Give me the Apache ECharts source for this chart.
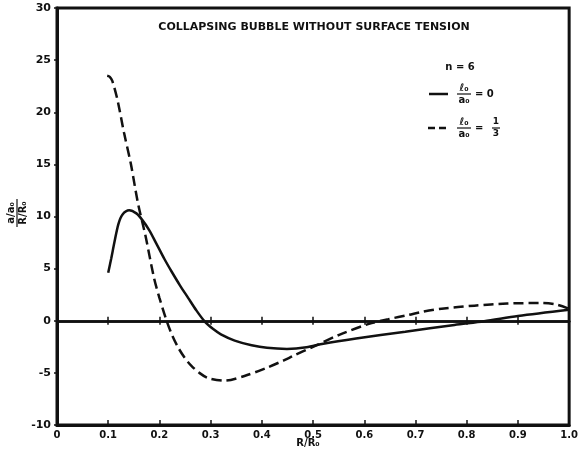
<!DOCTYPE html>
<html>
<head>
<meta charset="utf-8">
<script src="https://cdn.jsdelivr.net/npm/echarts@6/dist/echarts.min.js"></script>
<style>
html,body{margin:0;padding:0;background:#fff;}
#c{width:581px;height:462px;}
</style>
</head>
<body>
<div id="c"></div>
<script>
// ---- data ----
var titleText = 'COLLAPSING BUBBLE WITHOUT SURFACE TENSION';
var xTickLabels = ['0', '0.1', '0.2', '0.3', '0.4', '0.5', '0.6', '0.7', '0.8', '0.9', '1.0'];
var yTickLabels = ['-10', '-5', '0', '5', '10', '15', '20', '25', '30'];

// l0/a0 = 0 (solid)
var xSolid = [0.100, 0.106, 0.112, 0.120, 0.128, 0.141, 0.155, 0.166, 0.180, 0.193, 0.210, 0.224, 0.240, 0.256, 0.272, 0.289, 0.305, 0.320, 0.347, 0.380, 0.410, 0.449, 0.487, 0.520, 0.584, 0.680, 0.776, 0.834, 0.900, 1.000];
var ySolid = [4.6, 6.0, 7.5, 9.3, 10.2, 10.6, 10.3, 9.7, 8.7, 7.5, 5.9, 4.7, 3.4, 2.2, 1.0, -0.1, -0.8, -1.3, -1.9, -2.35, -2.6, -2.7, -2.55, -2.2, -1.7, -1.05, -0.4, -0.05, 0.45, 1.05];

// l0/a0 = 1/3 (dashed)
var xDashed = [0.098, 0.103, 0.108, 0.118, 0.131, 0.144, 0.158, 0.173, 0.189, 0.200, 0.214, 0.225, 0.237, 0.250, 0.262, 0.278, 0.295, 0.327, 0.366, 0.410, 0.443, 0.462, 0.500, 0.551, 0.609, 0.647, 0.686, 0.713, 0.751, 0.815, 0.879, 0.944, 0.975, 1.000];
var yDashed = [23.5, 23.4, 23.0, 21.2, 18.0, 15.1, 11.3, 8.1, 4.2, 2.2, 0.0, -1.4, -2.6, -3.6, -4.3, -5.0, -5.5, -5.75, -5.3, -4.5, -3.8, -3.35, -2.5, -1.35, -0.3, 0.15, 0.55, 0.85, 1.15, 1.45, 1.65, 1.7, 1.55, 1.15];

function zip(xs, ys) { return xs.map(function (x, i) { return [x, ys[i]]; }); }

var INK = '#111';
var FONT = 'DejaVu Sans';

var chart = echarts.init(document.getElementById('c'), null, {renderer: 'canvas'});

var baseX = {
  type: 'value', min: 0, max: 1, interval: 0.1, gridIndex: 0,
  splitLine: {show: false}
};

var option = {
  backgroundColor: '#fff',
  animation: false,
  title: {
    text: titleText,
    left: 309, top: 17, textAlign: 'center',
    textStyle: {fontFamily: FONT, fontSize: 11, fontWeight: 'bold', color: INK}
  },
  grid: {
    left: 57, right: 6, top: 8, bottom: 37,
    show: true, borderColor: INK, borderWidth: 3, backgroundColor: 'transparent'
  },
  xAxis: [
    Object.assign({}, baseX, {
      position: 'bottom',
      axisLine: {onZero: false, lineStyle: {color: INK, width: 3}},
      axisTick: {show: true, inside: true, length: 5, lineStyle: {color: INK, width: 1.5}},
      axisLabel: {
        margin: 5, color: INK, fontFamily: FONT, fontSize: 10, fontWeight: 'bold',
        formatter: function (v) { return xTickLabels[Math.round(v * 10)]; }
      }
    }),
    Object.assign({}, baseX, {
      position: 'bottom',
      axisLine: {onZero: true, onZeroAxisIndex: 0, lineStyle: {color: INK, width: 2.5}},
      axisTick: {show: true, inside: false, length: 4, lineStyle: {color: INK, width: 1.5}},
      axisLabel: {show: false}
    }),
    Object.assign({}, baseX, {
      position: 'bottom',
      axisLine: {onZero: true, onZeroAxisIndex: 0, lineStyle: {color: INK, width: 2.5}},
      axisTick: {show: true, inside: true, length: 4, lineStyle: {color: INK, width: 1.5}},
      axisLabel: {show: false}
    })
  ],
  yAxis: [{
    type: 'value', min: -10, max: 30, interval: 5,
    axisLine: {show: true, onZero: false, lineStyle: {color: INK, width: 3}},
    axisTick: {show: true, inside: false, length: 3, lineStyle: {color: INK, width: 1.5}},
    splitLine: {show: false},
    axisLabel: {
      margin: 6, color: INK, fontFamily: FONT, fontSize: 11, fontWeight: 'bold',
      formatter: function (v) { return yTickLabels[Math.round((v + 10) / 5)]; }
    }
  }],
  series: [
    {
      name: 'solid', type: 'line', xAxisIndex: 0, yAxisIndex: 0,
      data: zip(xSolid, ySolid), smooth: 0.3, showSymbol: false, symbol: 'none',
      lineStyle: {color: INK, width: 2.5, type: 'solid'}
    },
    {
      name: 'dashed', type: 'line', xAxisIndex: 0, yAxisIndex: 0,
      data: zip(xDashed, yDashed), smooth: 0.3, showSymbol: false, symbol: 'none',
      lineStyle: {color: INK, width: 2.5, type: [10, 5]}
    }
  ],
  graphic: [
    // y axis name: fraction a/a0 over R/R0, rotated
    {
      type: 'group', x: 17, y: 213, rotation: Math.PI / 2,
      children: [
        {type: 'text', x: 0, y: -6, style: {text: 'a/a\u2080', fill: INK, font: 'bold 10px ' + FONT, textAlign: 'center', textVerticalAlign: 'middle'}},
        {type: 'line', shape: {x1: -14, y1: 0, x2: 14, y2: 0}, style: {stroke: INK, lineWidth: 1.2}},
        {type: 'text', x: 0, y: 6, style: {text: 'R/R\u2080', fill: INK, font: 'bold 10px ' + FONT, textAlign: 'center', textVerticalAlign: 'middle'}}
      ]
    },
    // x axis name
    {type: 'text', x: 308, y: 443, style: {text: 'R/R\u2080', fill: INK, font: 'bold 10px ' + FONT, textAlign: 'center', textVerticalAlign: 'middle'}},
    // legend
    {type: 'text', x: 460, y: 67, style: {text: 'n = 6', fill: INK, font: 'bold 10px ' + FONT, textAlign: 'center', textVerticalAlign: 'middle'}},
    {type: 'line', shape: {x1: 429, y1: 94, x2: 448, y2: 94}, style: {stroke: INK, lineWidth: 2.5}},
    {type: 'text', x: 464, y: 88, style: {text: '\u2113\u2080', fill: INK, font: 'bold 10px ' + FONT, textAlign: 'center', textVerticalAlign: 'middle'}},
    {type: 'line', shape: {x1: 457, y1: 94, x2: 471, y2: 94}, style: {stroke: INK, lineWidth: 1.2}},
    {type: 'text', x: 464, y: 100, style: {text: 'a\u2080', fill: INK, font: 'bold 10px ' + FONT, textAlign: 'center', textVerticalAlign: 'middle'}},
    {type: 'text', x: 475, y: 94, style: {text: '= 0', fill: INK, font: 'bold 10px ' + FONT, textAlign: 'left', textVerticalAlign: 'middle'}},
    {type: 'line', shape: {x1: 428, y1: 128, x2: 448, y2: 128}, style: {stroke: INK, lineWidth: 2.5, lineDash: [7, 4]}},
    {type: 'text', x: 464, y: 122, style: {text: '\u2113\u2080', fill: INK, font: 'bold 10px ' + FONT, textAlign: 'center', textVerticalAlign: 'middle'}},
    {type: 'line', shape: {x1: 457, y1: 128, x2: 471, y2: 128}, style: {stroke: INK, lineWidth: 1.2}},
    {type: 'text', x: 464, y: 134, style: {text: 'a\u2080', fill: INK, font: 'bold 10px ' + FONT, textAlign: 'center', textVerticalAlign: 'middle'}},
    {type: 'text', x: 475, y: 128, style: {text: '=', fill: INK, font: 'bold 10px ' + FONT, textAlign: 'left', textVerticalAlign: 'middle'}},
    {type: 'text', x: 496, y: 122, style: {text: '1', fill: INK, font: 'bold 9px ' + FONT, textAlign: 'center', textVerticalAlign: 'middle'}},
    {type: 'line', shape: {x1: 492, y1: 128, x2: 500, y2: 128}, style: {stroke: INK, lineWidth: 1.2}},
    {type: 'text', x: 496, y: 134, style: {text: '3', fill: INK, font: 'bold 9px ' + FONT, textAlign: 'center', textVerticalAlign: 'middle'}}
  ]
};

chart.setOption(option);
</script>
</body>
</html>
